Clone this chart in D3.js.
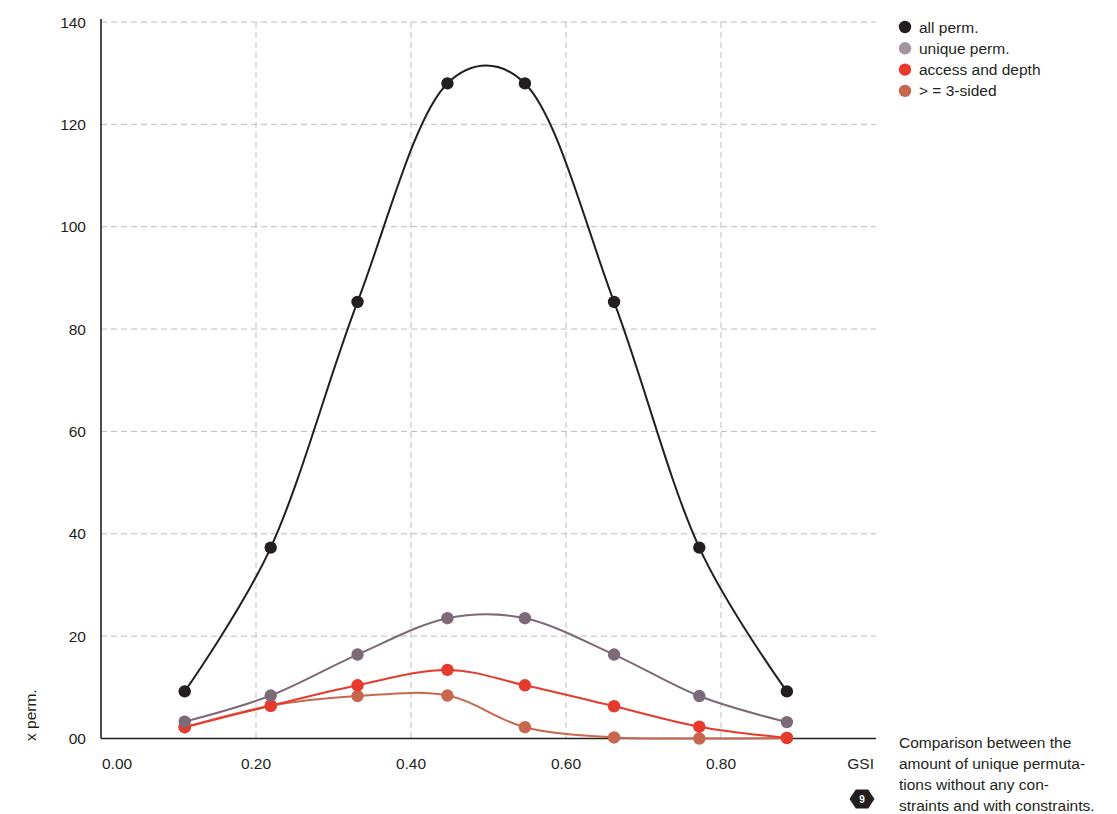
<!DOCTYPE html>
<html>
<head>
<meta charset="utf-8">
<script src="https://cdn.jsdelivr.net/npm/d3@7"></script>
<style>
  html, body { margin: 0; padding: 0; background: #fff; }
  svg { display: block; font-family: "Liberation Sans", Arial, sans-serif; }
</style>
</head>
<body>
<svg id="chart" width="1117" height="814"></svg>
<script>
// ---- data ----
const gsi = [0.108, 0.219, 0.331, 0.447, 0.547, 0.662, 0.772, 0.885];
const allPerm = [9.2, 37.3, 85.3, 128, 128, 85.3, 37.3, 9.2];
const uniquePerm = [3.3, 8.4, 16.4, 23.5, 23.5, 16.4, 8.3, 3.2];
const accessDepth = [2.2, 6.4, 10.4, 13.4, 10.4, 6.3, 2.3, 0.1];
const threeSided = [2.2, 6.4, 8.3, 8.4, 2.2, 0.2, 0.0, 0.1];
const seriesNames = ["all perm.", "unique perm.", "access and depth", "> = 3-sided"];
const yTicks = [0, 20, 40, 60, 80, 100, 120, 140];
const yTickLabels = ["00", "20", "40", "60", "80", "100", "120", "140"];
const xTicks = [0, 0.2, 0.4, 0.6, 0.8];
const xTickLabels = ["0.00", "0.20", "0.40", "0.60", "0.80"];
const captionLines = ["Comparison between the", "amount of unique permuta-", "tions without any con-", "straints and with constraints."];

const series = [
  { name: seriesNames[0], values: allPerm, line: "#231f20", dot: "#231f20", legend: "#231f20" },
  { name: seriesNames[1], values: uniquePerm, line: "#7c6a78", dot: "#7c6a78", legend: "#a1969f" },
  { name: seriesNames[2], values: accessDepth, line: "#e8392d", dot: "#e8392d", legend: "#e8392d" },
  { name: seriesNames[3], values: threeSided, line: "#c8674f", dot: "#c8674f", legend: "#c8674f" }
];

const svg = d3.select("#chart");
const pLeft = 101, pRight = 876, pTop = 22, pBottom = 738.5;
const x = d3.scaleLinear().domain([0, 1]).range([pLeft, pRight]);
const y = d3.scaleLinear().domain([0, 140]).range([pBottom, pTop]);
const textColor = "#231f20";
const fs = 15.5;

// grid
const grid = svg.append("g");
grid.selectAll("line.h").data(yTicks.filter(d => d > 0)).join("line")
  .attr("x1", pLeft).attr("x2", pRight)
  .attr("y1", d => y(d)).attr("y2", d => y(d))
  .attr("stroke", "#bdbdbd").attr("stroke-width", 1).attr("stroke-dasharray", "6,4");
grid.selectAll("line.v").data(xTicks.filter(d => d > 0)).join("line")
  .attr("x1", d => x(d)).attr("x2", d => x(d))
  .attr("y1", y(140)).attr("y2", pBottom)
  .attr("stroke", "#bdbdbd").attr("stroke-width", 1).attr("stroke-dasharray", "6,4");

// axes lines
svg.append("line").attr("x1", pLeft).attr("x2", pLeft).attr("y1", 19).attr("y2", pBottom)
  .attr("stroke", "#231f20").attr("stroke-width", 1.6);
svg.append("line").attr("x1", pLeft).attr("x2", pRight).attr("y1", pBottom).attr("y2", pBottom)
  .attr("stroke", "#231f20").attr("stroke-width", 1.6);

// y tick labels
svg.append("g").selectAll("text").data(yTicks).join("text")
  .attr("x", 86).attr("y", d => y(d) + 5.5)
  .attr("text-anchor", "end").attr("font-size", fs).attr("fill", textColor)
  .text((d, i) => yTickLabels[i]);

// x tick labels
svg.append("g").selectAll("text").data(xTicks).join("text")
  .attr("x", d => d === 0 ? x(d) + 1 : x(d)).attr("y", 769)
  .attr("text-anchor", d => d === 0 ? "start" : "middle")
  .attr("font-size", fs).attr("fill", textColor)
  .text((d, i) => xTickLabels[i]);

svg.append("text").attr("x", 874).attr("y", 769).attr("text-anchor", "end")
  .attr("font-size", fs).attr("fill", textColor).text("GSI");

svg.append("text").attr("transform", "translate(36,741) rotate(-90)")
  .attr("text-anchor", "start").attr("font-size", fs).attr("fill", textColor).text("x perm.");

// lines
const lineGen = d3.line().x((d, i) => x(gsi[i])).y(d => y(d)).curve(d3.curveCatmullRom.alpha(0.25));
const lines = svg.append("g");
series.slice().reverse().forEach(s => {
  lines.append("path").attr("d", lineGen(s.values))
    .attr("fill", "none").attr("stroke", s.line).attr("stroke-width", 2);
});
series.slice().reverse().forEach(s => {
  lines.append("g").selectAll("circle").data(s.values).join("circle")
    .attr("cx", (d, i) => x(gsi[i])).attr("cy", d => y(d)).attr("r", 6.2)
    .attr("fill", s.dot);
});

// legend
const lg = svg.append("g");
series.forEach((s, i) => {
  lg.append("circle").attr("cx", 905).attr("cy", 27 + i * 21.3).attr("r", 6.2).attr("fill", s.legend);
  lg.append("text").attr("x", 919).attr("y", 32.5 + i * 21.3).attr("font-size", fs)
    .attr("fill", textColor).text(s.name);
});

// caption
svg.append("g").selectAll("text").data(captionLines).join("text")
  .attr("x", 899).attr("y", (d, i) => 747.5 + i * 21.3)
  .attr("font-size", fs).attr("fill", textColor).text(d => d);

// badge
const bx = 862, by = 799, br = 12.5;
const hex = d3.range(6).map(k => {
  const a = Math.PI / 3 * k;
  return [bx + br * Math.cos(a), by + br * 0.87 * Math.sin(a)];
});
svg.append("path").attr("d", d3.line()(hex) + "Z").attr("fill", "#231f20");
svg.append("text").attr("x", bx).attr("y", by + 3.5).attr("text-anchor", "middle")
  .attr("font-size", 10).attr("font-weight", "bold").attr("fill", "#fff").text("9");
</script>
</body>
</html>
